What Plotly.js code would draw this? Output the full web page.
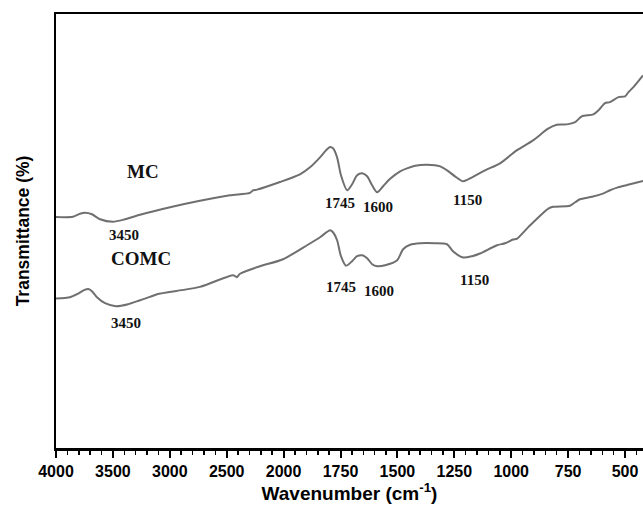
<!DOCTYPE html>
<html>
<head>
<meta charset="utf-8">
<script src="https://cdn.plot.ly/plotly-3.0.1.min.js"></script>
<style>
  html, body { margin: 0; padding: 0; background: #fff; }
  #chart { width: 643px; height: 506px; }
</style>
</head>
<body>
<div id="chart"></div>
<script>
// FTIR spectra of MC and COMC (wavenumber in cm-1, transmittance in arbitrary %)
const mcWavenumber = [4000, 3851, 3789, 3745, 3684, 3613, 3499, 3394, 3262, 2998, 2735, 2471, 2295, 2269, 2234, 2032,
  1928, 1884, 1840, 1814, 1796, 1783, 1765, 1748, 1721, 1699, 1677, 1655, 1633, 1611, 1589, 1563, 1532, 1488, 1458,
  1422, 1370, 1312, 1282, 1247, 1211, 1172, 1115, 1049, 976, 904, 838, 800, 756, 719, 690, 639, 617, 588, 566, 529,
  500, 485, 463, 421];
const mcTransmittance = [53.23, 53.28, 53.97, 54.20, 53.86, 52.70, 52.13, 52.70, 53.74, 55.47, 56.96, 58.23, 58.80, 59.38, 59.54, 61.29,
  63.06, 64.67, 66.97, 68.58, 69.35, 69.05, 66.97, 62.83, 59.38, 60.76, 62.83, 63.29, 62.60, 60.53, 58.92, 60.30, 62.03, 63.75, 64.44,
  65.02, 65.25, 64.90, 63.98, 62.60, 61.45, 62.37, 63.98, 65.59, 68.58, 70.89, 73.58, 74.50, 74.57, 75.10, 76.41, 76.87, 77.79, 79.47, 79.70, 80.85,
  81.01, 82.00, 83.15, 85.85];

const comcWavenumber = [4000, 3877, 3815, 3754, 3716, 3684, 3640, 3569, 3473, 3367, 3262, 3174, 3112, 2735, 2442, 2412, 2383, 2207, 2005,
  1897, 1840, 1796, 1783, 1765, 1748, 1726, 1699, 1677, 1655, 1633, 1611, 1589, 1554, 1501, 1475, 1444, 1400, 1335, 1282,
  1256, 1211, 1172, 1137, 1062, 1027, 992, 974, 917, 837, 816, 742, 719, 698, 645, 597, 566, 535, 478, 421];
const comcTransmittance = [34.45, 34.75, 35.44, 36.36, 36.64, 36.13, 34.75, 33.37, 32.68, 33.14, 34.06, 34.82, 35.44, 37.12, 39.82, 39.36, 40.16, 41.89, 43.50,
  46.72, 48.56, 50.17, 49.71, 47.87, 44.19, 42.00, 43.04, 44.19, 44.42, 43.73, 42.35, 41.89, 42.12, 43.27, 45.80, 46.84, 47.18, 47.18, 46.95,
  45.34, 43.89, 44.19, 44.81, 46.72, 47.18, 48.03, 48.26, 51.32, 55.17, 55.58, 55.81, 56.62, 57.31, 57.88, 58.62, 59.38, 60.00, 60.76, 61.52];

// Axis labels: 500 cm-1 steps above 2000, 250 cm-1 steps below (equal spacing on the axis)
const tickLabels = ['4000', '3500', '3000', '2500', '2000', '1750', '1500', '1250', '1000', '750', '500'];
const tickWavenumbers = [4000, 3500, 3000, 2500, 2000, 1750, 1500, 1250, 1000, 750, 500];

// Band assignments marked on each spectrum
const mcBands = [3450, 1745, 1600, 1150];
const comcBands = [3450, 1745, 1600, 1150];

// Piecewise-linear wavenumber scale: one unit per label interval
function pos(w) {
  return w >= 2000 ? (4000 - w) / 500 : 4 + (2000 - w) / 250;
}

const lineStyle = { color: '#6f6f6f', width: 2, shape: 'spline', smoothing: 0.7 };

const traces = [
  { x: mcWavenumber.map(pos), y: mcTransmittance, mode: 'lines', name: 'MC', line: lineStyle, hoverinfo: 'skip' },
  { x: comcWavenumber.map(pos), y: comcTransmittance, mode: 'lines', name: 'COMC', line: lineStyle, hoverinfo: 'skip' }
];

const serifNum = { family: 'Liberation Serif, Times New Roman, serif', size: 15, color: '#111', weight: 'bold' };
const serifName = { family: 'Liberation Serif, Times New Roman, serif', size: 19, color: '#111', weight: 'bold' };

// label placement: [y, xshift] for each band label
const mcBandPlace = [[49.0, 5], [56.4, -2], [55.5, 3], [57.1, -10]];
const comcBandPlace = [[28.8, 7], [37.1, -1], [36.2, 4], [38.7, -3]];

const annotations = [];
mcBands.forEach((w, i) => annotations.push({
  x: pos(w), y: mcBandPlace[i][0], xshift: mcBandPlace[i][1], text: String(w),
  showarrow: false, font: serifNum, xanchor: 'center', yanchor: 'middle'
}));
comcBands.forEach((w, i) => annotations.push({
  x: pos(w), y: comcBandPlace[i][0], xshift: comcBandPlace[i][1], text: String(w),
  showarrow: false, font: serifNum, xanchor: 'center', yanchor: 'middle'
}));
annotations.push({ x: 1.53, y: 63.6, text: 'MC', showarrow: false, font: serifName, xanchor: 'center', yanchor: 'middle' });
annotations.push({ x: 1.49, y: 43.7, text: 'COMC', showarrow: false, font: serifName, xanchor: 'center', yanchor: 'middle' });

const sansBold = { family: 'Liberation Sans, Arial, sans-serif', color: '#000', weight: 'bold' };

const layout = {
  width: 643,
  height: 506,
  margin: { l: 56, r: 0, t: 14, b: 58, pad: 0 },
  paper_bgcolor: '#fff',
  plot_bgcolor: '#fff',
  showlegend: false,
  xaxis: {
    range: [0, 10.316],
    tickmode: 'array',
    tickvals: tickWavenumbers.map(pos),
    ticktext: tickLabels,
    ticks: 'outside',
    ticklen: 7,
    tickwidth: 2,
    tickcolor: '#000',
    tickfont: Object.assign({ size: 16 }, sansBold),
    minor: { tickmode: 'linear', tick0: 0, dtick: 0.2, ticks: 'outside', ticklen: 4, tickwidth: 1.5, tickcolor: '#000' },
    showline: true,
    linecolor: '#000',
    linewidth: 2.5,
    mirror: true,
    showgrid: false,
    zeroline: false,
    title: { text: 'Wavenumber (cm<sup>-1</sup>)', font: Object.assign({ size: 19 }, sansBold), standoff: 3 }
  },
  yaxis: {
    range: [0, 100],
    showticklabels: false,
    ticks: '',
    showline: true,
    linecolor: '#000',
    linewidth: 2.5,
    showgrid: false,
    zeroline: false,
    title: { text: 'Transmittance (%)', font: Object.assign({ size: 17.5 }, sansBold), standoff: 20 }
  },
  annotations: annotations
};

Plotly.newPlot('chart', traces, layout, { staticPlot: true, displayModeBar: false });
</script>
</body>
</html>
